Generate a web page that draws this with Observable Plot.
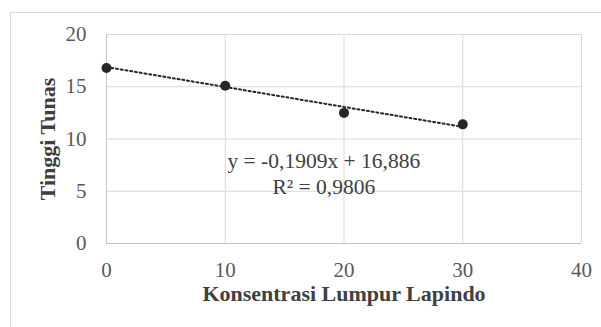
<!DOCTYPE html>
<html>
<head>
<meta charset="utf-8">
<script src="https://cdn.jsdelivr.net/npm/d3@7"></script>
<script src="https://cdn.jsdelivr.net/npm/@observablehq/plot@0.6"></script>
<style>
  body { margin: 0; background: #fff; font-family: "Liberation Serif"; }
  #wrap { position: relative; width: 601px; height: 327px; overflow: hidden; }
  #border { position: absolute; left: 10px; top: 12px; width: 700px; height: 400px; border: 1px solid #d9d9d9; box-sizing: border-box; }
  #chart { position: absolute; left: 0; top: 0; }
</style>
</head>
<body>
<div id="wrap"><div id="border"></div><div id="chart"></div></div>
<script>
// Data
const konsentrasi = [0, 10, 20, 30];
const tinggiTunas = [16.8, 15.1, 12.5, 11.4];
const xTicks = [0, 10, 20, 30, 40];
const yTicks = [0, 5, 10, 15, 20];
const trendSlope = -0.1909;
const trendIntercept = 16.886;
const equationLabels = ["y = -0,1909x + 16,886", "R² = 0,9806"];
const equationX = [18.3, 18.3];
const equationY = [7.92, 5.42];
const xTitle = "Konsentrasi Lumpur Lapindo";
const yTitle = "Tinggi Tunas";

const points = konsentrasi.map((x, i) => ({x, y: tinggiTunas[i]}));
const trendX = [konsentrasi[0], konsentrasi[konsentrasi.length - 1]];
const trend = trendX.map(x => ({x, y: trendIntercept + trendSlope * x}));
const eq = equationLabels.map((t, i) => ({t, x: equationX[i], y: equationY[i]}));

const FF = "Liberation Serif";

const chart = Plot.plot({
  width: 601,
  height: 327,
  marginLeft: 106,
  marginRight: 20,
  marginTop: 34,
  marginBottom: 84,
  style: { background: "transparent", overflow: "visible", fontFamily: FF },
  x: { domain: [0, 40] },
  y: { domain: [0, 20] },
  marks: [
    Plot.ruleX(xTicks.slice(1), { stroke: "#d9d9d9", strokeWidth: 1, strokeOpacity: 1 }),
    Plot.ruleY(yTicks.slice(1), { stroke: "#d9d9d9", strokeWidth: 1, strokeOpacity: 1 }),
    Plot.ruleX([0], { stroke: "#c4c4c4", strokeWidth: 1 }),
    Plot.ruleY([0], { stroke: "#c4c4c4", strokeWidth: 1 }),
    Plot.axisX({ ticks: xTicks, tickSize: 0, tickPadding: 19, label: null, fontSize: 21, fontFamily: FF, fill: "#595959", tickFormat: d => String(d) }),
    Plot.axisY({ ticks: yTicks, tickSize: 0, tickPadding: 20, label: null, fontSize: 21, fontFamily: FF, fill: "#595959", tickFormat: d => String(d) }),
    Plot.line(trend, { x: "x", y: "y", stroke: "#262626", strokeWidth: 2, strokeDasharray: "2,2.8" }),
    Plot.dot(points, { x: "x", y: "y", r: 5, fill: "#262626", stroke: "none" }),
    Plot.text(eq, { x: "x", y: "y", text: "t", fontSize: 21.5, fontFamily: FF, fill: "#404040", textAnchor: "middle" }),
    Plot.text([xTitle], { frameAnchor: "bottom", dy: 57, fontSize: 22, fontFamily: FF, fontWeight: "bold", fill: "#404040", textAnchor: "middle" }),
    Plot.text([yTitle], { frameAnchor: "left", dx: -59, rotate: -90, fontSize: 22, fontFamily: FF, fontWeight: "bold", fill: "#404040", textAnchor: "middle" })
  ]
});
document.getElementById("chart").appendChild(chart);
</script>
</body>
</html>
